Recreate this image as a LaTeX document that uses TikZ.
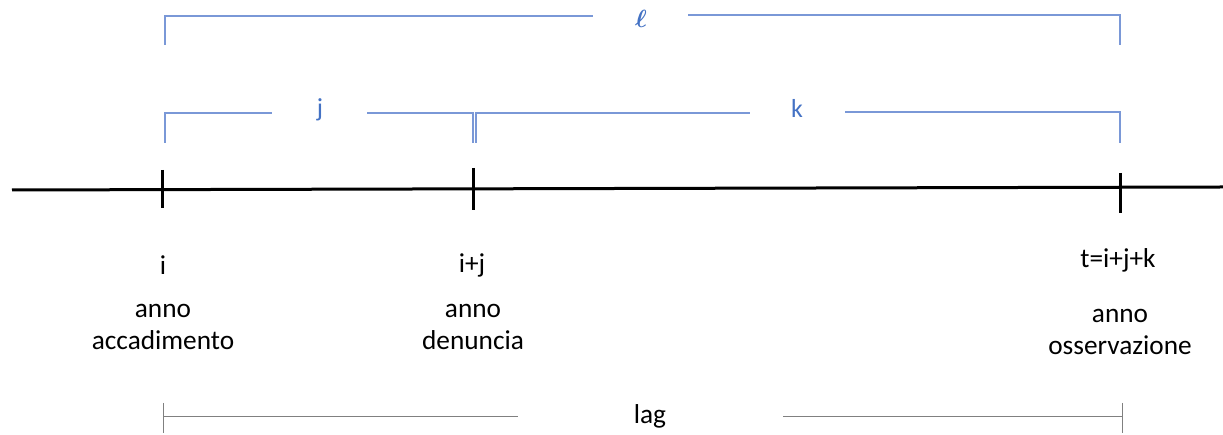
\documentclass[tikz,border=0pt]{standalone}
\usepackage{fontspec}
\setmainfont{Carlito}
\definecolor{brline}{RGB}{122,152,215}
\definecolor{brtext}{RGB}{68,114,196}
\definecolor{laggray}{RGB}{128,128,128}
\begin{document}
\begin{tikzpicture}[x=1pt,y=1pt,
  axis/.style={line width=3pt,black},
  tickmark/.style={line width=3pt,black},
  bracket/.style={line width=1.6pt,brline},
  brlabel/.style={text=brtext,font=\fontsize{26}{30}\selectfont,inner sep=0pt},
  lbl/.style={font=\fontsize{27.3}{31.5}\selectfont,align=center,inner sep=0pt},
  lagline/.style={line width=0.9pt,laggray}]
\useasboundingbox (0,0) rectangle (1223,435);
% axis
\coordinate (axL) at (12,245);
\coordinate (axR) at (1223,248);
\draw[axis] (axL) -- (axR);
% ticks
\coordinate (t1a) at (162,265); \coordinate (t1b) at (162,227);
\coordinate (t2a) at (473,267); \coordinate (t2b) at (473,225);
\coordinate (t3a) at (1120,262); \coordinate (t3b) at (1120,222);
\draw[tickmark] (t1a) -- (t1b);
\draw[tickmark] (t2a) -- (t2b);
\draw[tickmark] (t3a) -- (t3b);
% labels below
\node[lbl] (li) at (163,170) {i};
\node[lbl] (lij) at (472,170) {i+j};
\node[lbl] (lt) at (1118,175) {t=i+j+k};
\node[lbl] (ai) at (163,108) {anno\\accadimento};
\node[lbl] (ad) at (473,108) {anno\\denuncia};
\node[lbl] (ao) at (1120,103) {anno\\osservazione};
% top bracket l
\node[brlabel,font=\fontsize{36}{40}\selectfont\mathversion{bold}] (ell) at (641,416) {$\ell$};
\coordinate (la) at (165,390); \coordinate (lb) at (165,419);
\coordinate (lc) at (593,419);
\coordinate (ld) at (688,420); \coordinate (le) at (1120,420);
\coordinate (lf) at (1120,390);
\draw[bracket] (la) -- (lb) -- (lc);
\draw[bracket] (ld) -- (le) -- (lf);
% j bracket
\node[brlabel] (jl) at (320,325) {j};
\coordinate (ja) at (165,292); \coordinate (jb) at (165,322);
\coordinate (jc) at (272,322);
\coordinate (jd) at (367,322); \coordinate (je) at (473,322);
\coordinate (jf) at (473,292);
\draw[bracket] (ja) -- (jb) -- (jc);
\draw[bracket] (jd) -- (je) -- (jf);
% k bracket
\node[brlabel] (kl) at (797,327) {k};
\coordinate (ka) at (476,292); \coordinate (kb) at (476,322);
\coordinate (kc) at (750,322);
\coordinate (kd) at (845,323); \coordinate (ke) at (1120,323);
\coordinate (kf) at (1120,292);
\draw[bracket] (ka) -- (kb) -- (kc);
\draw[bracket] (kd) -- (ke) -- (kf);
% lag
\node[lbl] (lag) at (650,19) {lag};
\coordinate (ga) at (163,32); \coordinate (gb) at (163,2);
\coordinate (gm) at (163,19); \coordinate (gn) at (518,19);
\coordinate (go) at (783,19); \coordinate (gp) at (1122,19);
\coordinate (gq) at (1122,32); \coordinate (gr) at (1122,2);
\draw[lagline] (ga) -- (gb);
\draw[lagline] (gq) -- (gr);
\draw[lagline] (gm) -- (gn);
\draw[lagline] (go) -- (gp);
\end{tikzpicture}
\end{document}
